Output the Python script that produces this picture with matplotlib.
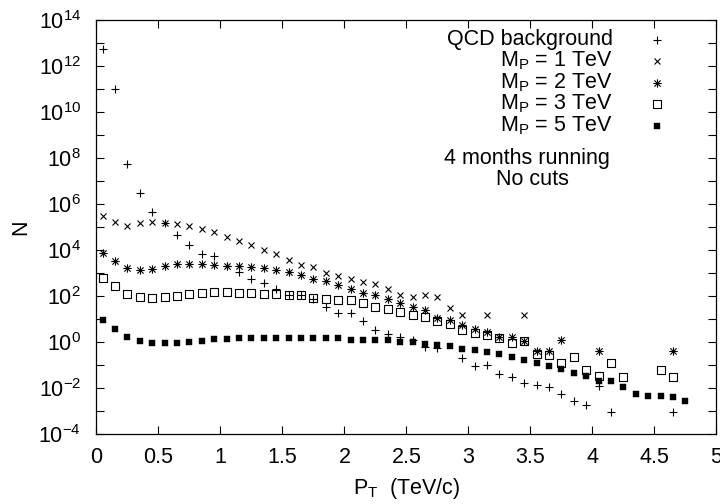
import numpy as np
import matplotlib
matplotlib.use('Agg')
import matplotlib.pyplot as plt
from matplotlib.path import Path

plt.rcParams['font.family'] = ['Liberation Sans', 'DejaVu Sans']
plt.rcParams['mathtext.fontset'] = 'custom'
plt.rcParams['mathtext.rm'] = 'Liberation Sans'
plt.rcParams['mathtext.it'] = 'Liberation Sans'
plt.rcParams['mathtext.bf'] = 'Liberation Sans'

# QCD background (+)
pt_qcd = [0.05, 0.15, 0.25, 0.35, 0.45, 0.55, 0.65, 0.75, 0.85, 0.95,
          1.05, 1.15, 1.25, 1.35, 1.45, 1.55, 1.65, 1.75, 1.85, 1.95,
          2.05, 2.15, 2.25, 2.35, 2.45, 2.55, 2.65, 2.75, 2.95, 3.05,
          3.15, 3.25, 3.35, 3.45, 3.55, 3.65, 3.75, 3.85, 3.95, 4.05,
          4.15, 4.65]
n_qcd = [5.4e12, 9.8e10, 5.4e7, 3.1e6, 4.8e5, 1.6e5, 4.5e4, 1.7e4, 7.2e3, 5.5e3,
         2.0e3, 1.1e3, 5.5e2, 3.8e2, 2.0e2, 1.1e2, 1.1e2, 80, 34, 18,
         18, 8.3, 3.3, 2.3, 1.7, 1.3, 0.6, 0.59, 0.22, 0.091,
         0.1, 0.041, 0.032, 0.018, 0.0145, 0.0117, 0.0059, 0.0029, 0.0019, 0.0123,
         0.00093, 0.00093]

# M_P = 1 TeV (x)
pt_m1 = [0.05, 0.15, 0.25, 0.35, 0.45, 0.55, 0.65, 0.75, 0.85, 0.95,
         1.05, 1.15, 1.25, 1.35, 1.45, 1.55, 1.65, 1.75, 1.85, 1.95,
         2.05, 2.15, 2.25, 2.35, 2.45, 2.55, 2.65, 2.75, 2.85, 2.95,
         3.15, 3.45]
n_m1 = [3.0e5, 1.66e5, 1.15e5, 1.55e5, 1.66e5, 1.6e5, 1.35e5, 1.1e5, 8.5e4, 6.0e4,
        3.8e4, 2.6e4, 1.66e4, 1.07e4, 6.8e3, 3.7e3, 2.2e3, 1.8e3, 1.0e3, 740,
        560, 400, 360, 210, 112, 98, 112, 93, 32, 15,
        15, 15]

# M_P = 2 TeV (asterisk)
pt_m2 = [0.05, 0.15, 0.25, 0.35, 0.45, 0.55, 0.65, 0.75, 0.85, 0.95,
         1.05, 1.15, 1.25, 1.35, 1.45, 1.55, 1.65, 1.75, 1.85, 1.95,
         2.05, 2.15, 2.25, 2.35, 2.45, 2.55, 2.65, 2.75, 2.85, 2.95,
         3.05, 3.15, 3.25, 3.35, 3.45, 3.55, 3.65, 3.75, 4.05, 4.65]
n_m2 = [7.9e3, 3.5e3, 1.7e3, 1.45e3, 1.55e3, 2.1e3, 2.45e3, 2.6e3, 2.45e3, 2.4e3,
        2.0e3, 2.0e3, 1.8e3, 1.66e3, 1.35e3, 1.1e3, 810, 590, 450, 320,
        210, 140, 115, 76, 50, 34, 25, 12, 9.1, 5.5,
        3.8, 2.9, 1.66, 1.66, 1.1, 0.43, 0.43, 1.23, 0.42, 0.42]

# M_P = 3 TeV (open square)
pt_m3 = [0.05, 0.15, 0.25, 0.35, 0.45, 0.55, 0.65, 0.75, 0.85, 0.95,
         1.05, 1.15, 1.25, 1.35, 1.45, 1.55, 1.65, 1.75, 1.85, 1.95,
         2.05, 2.15, 2.25, 2.35, 2.45, 2.55, 2.65, 2.75, 2.85, 2.95,
         3.05, 3.15, 3.25, 3.35, 3.45, 3.55, 3.65, 3.75, 3.85, 3.95,
         4.05, 4.15, 4.25, 4.55, 4.65]
n_m3 = [600, 270, 126, 98, 85, 93, 100, 123, 138, 148,
        148, 145, 138, 132, 132, 115, 110, 87, 79, 72,
        68, 50, 35, 28, 21, 16, 12.3, 8.3, 6.3, 3.5,
        2.6, 2.1, 1.6, 0.93, 1.12, 0.30, 0.28, 0.13, 0.23, 0.065,
        0.033, 0.126, 0.032, 0.065, 0.032]

# M_P = 5 TeV (filled square)
pt_m5 = [0.05, 0.15, 0.25, 0.35, 0.45, 0.55, 0.65, 0.75, 0.85, 0.95,
         1.05, 1.15, 1.25, 1.35, 1.45, 1.55, 1.65, 1.75, 1.85, 1.95,
         2.05, 2.15, 2.25, 2.35, 2.45, 2.55, 2.65, 2.75, 2.85, 2.95,
         3.05, 3.15, 3.25, 3.35, 3.45, 3.55, 3.65, 3.75, 3.85, 3.95,
         4.05, 4.15, 4.25, 4.35, 4.45, 4.55, 4.65, 4.75]
n_m5 = [9.8, 4.0, 1.78, 1.17, 0.98, 0.98, 0.98, 1.07, 1.17, 1.35,
        1.45, 1.58, 1.58, 1.58, 1.58, 1.58, 1.58, 1.55, 1.55, 1.48,
        1.32, 1.32, 1.23, 1.23, 1.07, 1.0, 0.89, 0.74, 0.68, 0.54,
        0.45, 0.37, 0.30, 0.23, 0.166, 0.129, 0.098, 0.072, 0.045, 0.035,
        0.021, 0.022, 0.011, 0.0059, 0.0048, 0.0048, 0.0041, 0.0029]

labels = ['QCD background', r'$\mathregular{M_P}$ = 1 TeV', r'$\mathregular{M_P}$ = 2 TeV',
          r'$\mathregular{M_P}$ = 3 TeV', r'$\mathregular{M_P}$ = 5 TeV']

# gnuplot style point types
star = Path([(-1, 0), (1, 0), (0, -1), (0, 1),
             (-0.75, -0.75), (0.75, 0.75), (-0.75, 0.75), (0.75, -0.75)],
            [Path.MOVETO, Path.LINETO] * 4)
box_dot = Path([(-1, -1), (1, -1), (1, 1), (-1, 1), (-1, -1),
                (-0.08, 0), (0.08, 0)],
               [Path.MOVETO, Path.LINETO, Path.LINETO, Path.LINETO, Path.CLOSEPOLY,
                Path.MOVETO, Path.LINETO])

styles = [dict(marker='+', ms=5.5, mew=0.8),
          dict(marker='x', ms=5, mew=0.8),
          dict(marker=star, ms=6, mew=0.8),
          dict(marker=box_dot, ms=5.5, mew=0.8, mfc='none'),
          dict(marker='s', ms=4.5, mew=0.3)]

fig = plt.figure(figsize=(7.2, 5.04), dpi=100)
ax = fig.add_axes([0.134, 0.138, 0.861, 0.822])

series = [(pt_qcd, n_qcd), (pt_m1, n_m1), (pt_m2, n_m2), (pt_m3, n_m3), (pt_m5, n_m5)]
for (x, y), st in zip(series, styles):
    ax.plot(x, y, linestyle='none', color='black', **st)

ax.set_yscale('log')
ax.set_xlim(0, 5)
ax.set_ylim(1e-4, 1e14)
ax.set_xticks(np.arange(0, 5.01, 0.5))
ax.set_xticklabels(['0', '0.5', '1', '1.5', '2', '2.5', '3', '3.5', '4', '4.5', '5'])
decades = np.arange(-4, 15)
ax.set_yticks(10.0 ** decades)
ax.set_yticklabels([r'$\mathregular{10^{%d}}$' % d if d % 2 == 0 else '' for d in decades])
ax.minorticks_off()
ax.tick_params(direction='in', top=True, right=True, length=6, width=0.8,
               labelsize=15.5, pad=9)
ax.tick_params(axis='y', pad=11)
for s in ax.spines.values():
    s.set_linewidth(0.9)

ax.set_xlabel(r'$\mathregular{P_T}$  (TeV/c)', fontsize=15.5, labelpad=6)
ax.set_ylabel('N', fontsize=15.5, labelpad=5)

# key, drawn gnuplot style: text right-aligned, symbol to the right
def fy(py):
    return (434.3 - py) / 414.3

key_rows = [39.5, 61, 82.5, 104, 126]
for lab, st, py in zip(labels, styles, key_rows):
    ax.text(0.833, fy(py + 5.5), lab, transform=ax.transAxes, ha='right',
            va='baseline', fontsize=15.5)
    ax.plot([0.904], [fy(py)], transform=ax.transAxes, linestyle='none',
            color='black', clip_on=False, **st)

ax.text((526.7 - 96.5) / 620, fy(164), '4 months running', transform=ax.transAxes,
        ha='center', va='baseline', fontsize=15.5)
ax.text((533 - 96.5) / 620, fy(185), 'No cuts', transform=ax.transAxes,
        ha='center', va='baseline', fontsize=15.5)

fig.savefig('out.png', dpi=100)
